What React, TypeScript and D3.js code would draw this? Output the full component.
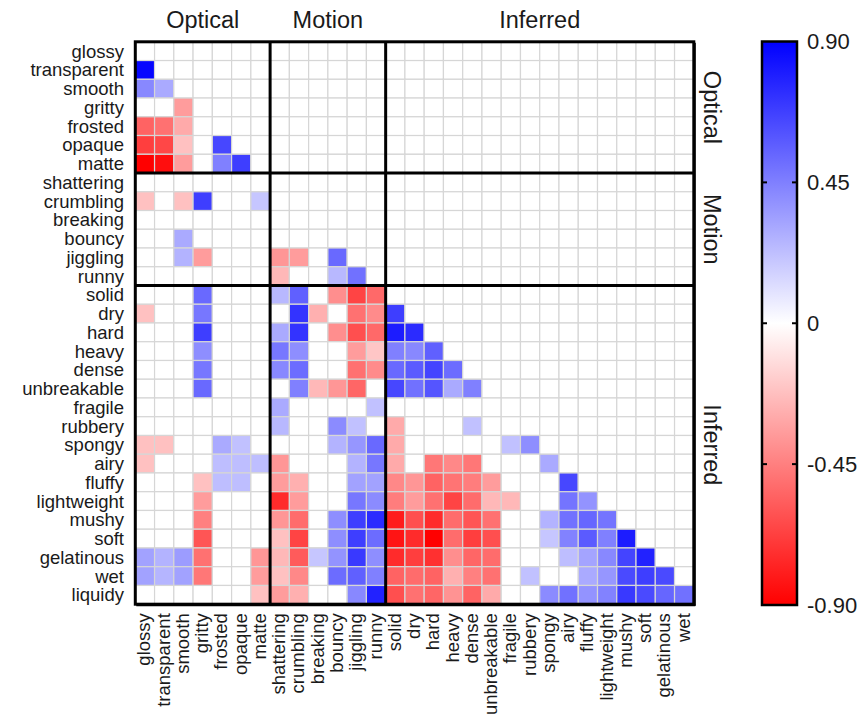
import React from "react";
import * as d3 from "d3";

// Attribute names, in matrix order (rows use all, columns drop the last)
const attributes = [
  "glossy", "transparent", "smooth", "gritty", "frosted", "opaque", "matte",
  "shattering", "crumbling", "breaking", "bouncy", "jiggling", "runny",
  "solid", "dry", "hard", "heavy", "dense", "unbreakable", "fragile", "rubbery",
  "spongy", "airy", "fluffy", "lightweight", "mushy", "soft", "gelatinous", "wet", "liquidy",
];

// Attribute groups: name and first index of each block
const groupNames = ["Optical", "Motion", "Inferred"];
const groupStarts = [0, 7, 13];

// Colour bar ticks
const colorTicks = [0.9, 0.45, 0, -0.45, -0.9];
const colorTickLabels = ["0.90", "0.45", "0", "-0.45", "-0.90"];

// Lower-triangular correlations: row i holds its values against columns 0..i-1
const corrValues: number[][] = [
  [],
  [0.88],
  [0.42, 0.3],
  [0, 0, -0.35],
  [-0.55, -0.5, -0.3, 0],
  [-0.68, -0.65, -0.22, 0, 0.65],
  [-0.9, -0.85, -0.35, 0, 0.45, 0.68],
  [0, 0, 0, 0, 0, 0, 0],
  [-0.22, 0, -0.22, 0.68, 0, 0, 0.2, 0],
  [0, 0, 0, 0, 0, 0, 0, 0, 0],
  [0, 0, 0.3, 0, 0, 0, 0, 0, 0, 0],
  [0, 0, 0.27, -0.35, 0, 0, 0, -0.37, -0.35, 0, 0.53],
  [0, 0, 0, 0, 0, 0, 0, -0.25, 0, 0, 0.25, 0.5],
  [0, 0, 0, 0.53, 0, 0, 0, 0.25, 0.56, 0, -0.4, -0.66, -0.53],
  [-0.22, 0, 0, 0.48, 0, 0, 0, 0, 0.72, -0.28, 0, -0.5, -0.41, 0.68],
  [0, 0, 0, 0.68, 0, 0, 0, 0.3, 0.72, 0, -0.4, -0.62, -0.53, 0.8, 0.75],
  [0, 0, 0, 0.4, 0, 0, 0, 0.48, 0.4, 0, 0, -0.35, -0.2, 0.45, 0.42, 0.56],
  [0, 0, 0, 0.48, 0, 0, 0, 0.42, 0.52, 0, 0, -0.5, -0.41, 0.53, 0.58, 0.66, 0.52],
  [0, 0, 0, 0.53, 0, 0, 0, 0, 0.45, -0.25, -0.37, -0.54, 0, 0.65, 0.5, 0.6, 0.3, 0.45],
  [0, 0, 0, 0, 0, 0, 0, 0.3, 0, 0, 0, 0, 0.22, 0, 0, 0, 0, 0, 0],
  [0, 0, 0, 0, 0, 0, 0, 0.25, 0, 0, 0.41, 0.22, 0, -0.3, 0, 0, 0, 0.22, 0, 0],
  [-0.22, -0.22, 0, 0, 0.3, 0.22, 0, 0, 0, 0, 0.27, 0.37, 0.53, -0.3, 0, 0, 0, 0, 0, 0.22, 0.4],
  [-0.22, 0, 0, 0, 0.23, 0.23, 0.23, -0.37, 0, 0, 0, 0.27, 0.48, -0.3, 0, -0.48, -0.42, -0.48, 0, 0, 0, 0.3],
  [0, 0, 0, -0.22, 0.23, 0.23, 0, -0.35, -0.28, 0, 0, 0.33, 0.33, -0.42, -0.37, -0.55, -0.49, -0.46, -0.35, 0, 0, 0, 0.65],
  [0, 0, 0, -0.35, 0, 0, 0, -0.75, -0.35, 0, 0, 0.48, 0.41, -0.46, -0.35, -0.5, -0.66, -0.52, -0.25, -0.25, 0, 0, 0.49, 0.38],
  [0, 0, 0, -0.45, 0, 0, 0, -0.37, -0.52, 0, 0.4, 0.68, 0.75, -0.8, -0.62, -0.75, -0.52, -0.6, -0.5, 0, 0, 0.27, 0.5, 0.54, 0.49],
  [0, 0, 0, -0.6, 0, 0, 0, -0.22, -0.66, 0, 0.4, 0.68, 0.52, -0.83, -0.75, -0.9, -0.52, -0.68, -0.62, 0, 0, 0.2, 0.44, 0.58, 0.45, 0.8],
  [0.33, 0.27, 0.35, -0.5, 0, 0, -0.37, -0.25, -0.58, 0.2, 0.38, 0.7, 0.4, -0.75, -0.68, -0.73, -0.4, -0.54, -0.52, 0, 0, 0, 0.23, 0.32, 0.42, 0.66, 0.78],
  [0.33, 0.26, 0.33, -0.48, 0, 0, -0.35, -0.22, -0.42, 0, 0.52, 0.56, 0.45, -0.55, -0.52, -0.55, -0.28, -0.45, -0.5, 0, 0.22, 0, 0, 0.3, 0.37, 0.64, 0.68, 0.64],
  [0, 0, 0, 0, 0, 0, -0.22, -0.35, -0.28, 0, 0, 0.42, 0.78, -0.62, -0.5, -0.54, -0.38, -0.55, -0.3, 0, 0, 0.41, 0.5, 0.38, 0.44, 0.7, 0.64, 0.54, 0.5],
];

const FONT = "'Liberation Sans', Arial, Helvetica, sans-serif";
const TEXT = "#1a1a1a";

export default function App() {
  const width = 865;
  const height = 723;
  const rowNames = attributes;
  const colNames = attributes.slice(0, attributes.length - 1);

  const grid = { left: 135.3, right: 693.8, top: 41.8, bottom: 604.2 };

  const x = d3.scaleBand<number>().domain(d3.range(colNames.length)).range([grid.left, grid.right]);
  const y = d3.scaleBand<number>().domain(d3.range(rowNames.length)).range([grid.top, grid.bottom]);
  const xEdge = (i: number) => (i >= colNames.length ? grid.right : (x(i) as number));
  const yEdge = (i: number) => (i >= rowNames.length ? grid.bottom : (y(i) as number));

  const color = d3
    .scaleLinear<string>()
    .domain([-0.9, 0, 0.9])
    .range(["#ff0000", "#ffffff", "#0000ff"])
    .clamp(true);

  const cells: { r: number; c: number; v: number }[] = [];
  rowNames.forEach((_, r) => {
    colNames.forEach((_, c) => {
      const v = c < r ? corrValues[r][c] ?? 0 : 0;
      cells.push({ r, c, v });
    });
  });

  // colour bar
  const bar = { x: 762, w: 35, top: 41.5, bottom: 605 };
  const cy = d3.scaleLinear().domain([-0.9, 0.9]).range([bar.bottom, bar.top]);

  const colGroupEnds = [7, 13, colNames.length];
  const rowGroupEnds = [7, 13, rowNames.length];

  return (
    <svg
      width={width}
      height={height}
      style={{ position: "absolute", left: 0, top: 0, background: "#fff" }}
      fontFamily={FONT}
    >
      <defs>
        <linearGradient id="cbar" x1="0" y1="0" x2="0" y2="1">
          <stop offset="0%" stopColor={color(0.9)} />
          <stop offset="50%" stopColor={color(0)} />
          <stop offset="100%" stopColor={color(-0.9)} />
        </linearGradient>
      </defs>

      {/* heatmap cells */}
      <g>
        {cells.map((d) => (
          <rect
            key={`${d.r}-${d.c}`}
            x={x(d.c)}
            y={y(d.r)}
            width={x.bandwidth()}
            height={y.bandwidth()}
            fill={color(d.v)}
            stroke="#d6d6d6"
            strokeWidth={1.2}
          />
        ))}
      </g>

      {/* block separators and frame */}
      <g stroke="#000" strokeWidth={3}>
        {groupStarts.slice(1).map((s) => (
          <line key={`v${s}`} x1={xEdge(s)} x2={xEdge(s)} y1={grid.top} y2={grid.bottom} />
        ))}
        {groupStarts.slice(1).map((s) => (
          <line key={`h${s}`} x1={grid.left} x2={grid.right} y1={yEdge(s)} y2={yEdge(s)} />
        ))}
        <rect
          x={grid.left}
          y={grid.top}
          width={grid.right - grid.left}
          height={grid.bottom - grid.top}
          fill="none"
        />
        <line x1={grid.left + 1} x2={grid.right + 1.5} y1={grid.bottom + 1} y2={grid.bottom + 1} strokeWidth={2} />
        <line x1={grid.right + 1} x2={grid.right + 1} y1={grid.top + 1} y2={grid.bottom + 1.5} strokeWidth={2} />
      </g>

      {/* row labels */}
      <g fontSize={18.5} fill={TEXT} textAnchor="end">
        {rowNames.map((n, i) => (
          <text key={n} x={124} y={(y(i) as number) + y.bandwidth() / 2} dy="0.35em">
            {n}
          </text>
        ))}
      </g>

      {/* column labels */}
      <g fontSize={18.5} fill={TEXT} textAnchor="end">
        {colNames.map((n, i) => {
          const cx = (x(i) as number) + x.bandwidth() / 2 - 1;
          return (
            <text key={n} transform={`translate(${cx},${grid.bottom + 9}) rotate(-90)`} dy="0.35em">
              {n}
            </text>
          );
        })}
      </g>

      {/* group titles */}
      <g fontSize={23.5} fill={TEXT} textAnchor="middle">
        {groupNames.map((g, i) => {
          const cx = (xEdge(groupStarts[i]) + xEdge(colGroupEnds[i])) / 2;
          return (
            <text key={`t${g}`} x={cx} y={28}>
              {g}
            </text>
          );
        })}
        {groupNames.map((g, i) => {
          const cyy = (yEdge(groupStarts[i]) + yEdge(rowGroupEnds[i])) / 2;
          return (
            <text key={`r${g}`} transform={`translate(712,${cyy}) rotate(90)`} dy="0.35em">
              {g}
            </text>
          );
        })}
      </g>

      {/* colour bar */}
      <g>
        <rect
          x={bar.x}
          y={bar.top}
          width={bar.w}
          height={bar.bottom - bar.top}
          fill="url(#cbar)"
          stroke="#000"
          strokeWidth={2.5}
        />
        {colorTicks.slice(1, -1).map((t) => (
          <g key={`k${t}`} stroke="#000" strokeWidth={2}>
            <line x1={bar.x} x2={bar.x + 5} y1={cy(t)} y2={cy(t)} />
            <line x1={bar.x + bar.w - 5} x2={bar.x + bar.w} y1={cy(t)} y2={cy(t)} />
          </g>
        ))}
        <g fontSize={22} fill={TEXT}>
          {colorTicks.map((t, i) => (
            <text key={`l${t}`} x={807} y={cy(t)} dy="0.35em">
              {colorTickLabels[i]}
            </text>
          ))}
        </g>
      </g>
    </svg>
  );
}
